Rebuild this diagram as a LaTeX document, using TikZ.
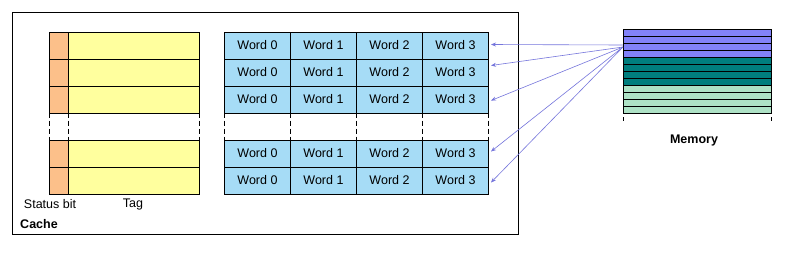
\documentclass[tikz,border=0pt]{standalone}
\usepackage{fontspec}
\setmainfont{Liberation Sans}
\usetikzlibrary{arrows.meta,calc}
\definecolor{statuscol}{HTML}{FCC08A}
\definecolor{tagcol}{HTML}{FFFF9E}
\definecolor{wordcol}{HTML}{A6DCF6}
\definecolor{memblue}{HTML}{8282F8}
\definecolor{memteal}{HTML}{007E7E}
\definecolor{memgreen}{HTML}{AEE2C6}
\definecolor{arrowcol}{HTML}{7676DC}
\tikzset{
  cell/.style={draw=black, line width=1pt, anchor=north west, inner sep=0pt},
  wordbox/.style={cell, fill=wordcol, minimum width=66pt, minimum height=27pt},
  gapline/.style={line width=1pt, dash pattern=on 5pt off 3pt},
  fetch/.style={draw=arrowcol, line width=0.6pt, -{Stealth[length=5pt,width=4pt]}},
  lbl/.style={font=\fontsize{12.5}{14}\selectfont, inner sep=0pt}
}
\begin{document}
\begin{tikzpicture}[x=1pt, y=-1pt]
  \useasboundingbox (0,0) rectangle (786,258);
  \fill[white] (0,0) rectangle (786,258);
  % cache outline
  \draw[line width=1pt] (12,12) rectangle (518,234);
  \node[lbl, font=\fontsize{12.5}{14}\selectfont\bfseries] (cache) at (39,224) {Cache};
  % status bit and tag rows
  \foreach \r/\y in {1/31.5, 2/58.5, 3/85.5, 4/139.5, 5/166.5} {
    \node[cell, fill=statuscol, minimum width=19pt, minimum height=27pt] (s-\r) at (49,\y) {};
    \node[cell, fill=tagcol, minimum width=131pt, minimum height=27pt] (t-\r) at (68,\y) {};
  }
  % data words
  \foreach \r/\y in {1/31.5, 2/58.5, 3/85.5, 4/139.5, 5/166.5}
    \foreach \c in {0,...,3}
      \node[wordbox, lbl] (w-\r-\c) at (224+66*\c,\y) {Word \c};
  % gap between rows
  \foreach \x in {49,68,199,224,290,356,422,488}
    \draw[gapline] (\x,112.5) -- (\x,139.5);
  \node[lbl] (status) at (50,204) {Status bit};
  \node[lbl] (tag) at (133,204) {Tag};
  % memory
  \foreach \i in {1,...,12} {
    \ifnum\i<5 \def\mc{memblue}\else\ifnum\i<9 \def\mc{memteal}\else\def\mc{memgreen}\fi\fi
    \node[cell, fill=\mc, minimum width=148pt, minimum height=7pt] (m-\i) at (623,29+7*\i-7) {};
  }
  \draw[line width=1pt] (623,117) -- (623,121);
  \draw[line width=1pt] (771,117) -- (771,121);
  \node[lbl, font=\fontsize{12.5}{14}\selectfont\bfseries] (memory) at (694,140) {Memory};
  % block fetches
  \draw[fetch] ($(m-3.west)+(0,-2)$) -- ($(w-1-3.east)+(2,-1)$);
  \draw[fetch] (m-3.west) -- ($(w-2-3.east)+(2,-7)$);
  \draw[fetch] (m-3.west) -- ($(w-3-3.east)+(2,1)$);
  \draw[fetch] (m-3.west) -- ($(w-4-3.east)+(2,-2)$);
  \draw[fetch] (m-3.west) -- ($(w-5-3.east)+(2,2)$);
\end{tikzpicture}
\end{document}
